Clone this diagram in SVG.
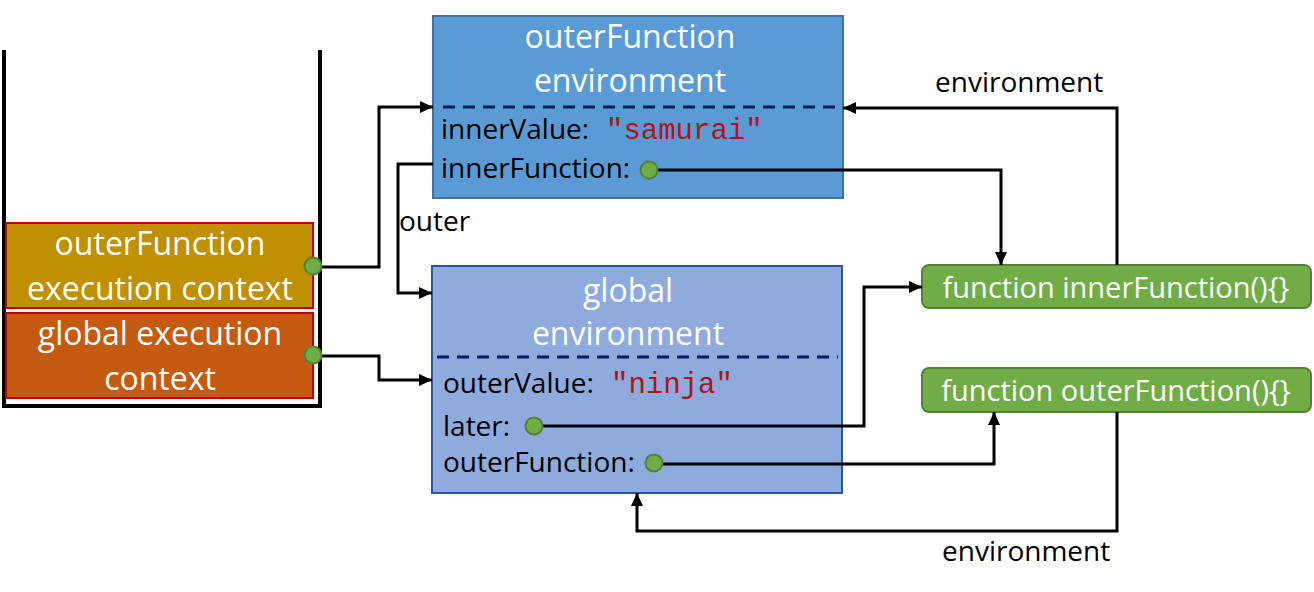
<svg xmlns="http://www.w3.org/2000/svg" width="1314" height="592" viewBox="0 0 1314 592">
<defs>
<marker id="arr" markerUnits="userSpaceOnUse" markerWidth="14" markerHeight="14" viewBox="0 0 14 14" refX="13" refY="7" orient="auto">
<path d="M0,1 L13,7 L0,13 Z" fill="#000"/>
</marker>
</defs>
<style>
.t{font-family:"Open Sans","Noto Sans","DejaVu Sans",sans-serif;}
.w{fill:#fff;}
.k{fill:#000;}
.m{font-family:"Liberation Mono","DejaVu Sans Mono",monospace;fill:#B01515;font-size:29px;}
.c{fill:none;stroke:#000;stroke-width:3;marker-end:url(#arr);}
.dot{fill:#70AD47;stroke:#548235;stroke-width:2;}
.dash{stroke:#002060;stroke-width:3;stroke-dasharray:12 8;}
</style>
<rect width="1314" height="592" fill="#fff"/>
<g id="stack">
<path d="M4,50 L4,406 L320,406 L320,50" fill="none" stroke="#000" stroke-width="4"/>
</g>
<g id="outer-ctx">
<rect x="6" y="223" width="307" height="85" fill="#BF9000" stroke="#C00000" stroke-width="2"/>
<text class="t w" x="160" y="255" font-size="32" text-anchor="middle">outerFunction</text>
<text class="t w" x="160" y="300" font-size="32" text-anchor="middle">execution context</text>
</g>
<g id="global-ctx">
<rect x="6" y="313" width="307" height="85" fill="#C55A11" stroke="#C00000" stroke-width="2"/>
<text class="t w" x="160" y="345" font-size="32" text-anchor="middle">global execution</text>
<text class="t w" x="160" y="390" font-size="32" text-anchor="middle">context</text>
</g>
<g id="outer-env">
<rect x="433" y="16" width="410" height="182" fill="#5B9BD5" stroke="#41719C" stroke-width="2"/>
<text class="t w" x="630" y="48" font-size="32" text-anchor="middle">outerFunction</text>
<text class="t w" x="630" y="92" font-size="32" text-anchor="middle">environment</text>
<line class="dash" x1="443" y1="107" x2="843" y2="107"/>
<text class="t k" x="441" y="139" font-size="28">innerValue:</text>
<text class="m" x="606" y="139">"samurai"</text>
<text class="t k" x="441" y="178" font-size="28">innerFunction:</text>
</g>
<g id="global-env">
<rect x="432" y="266" width="410" height="227" fill="#8FAADC" stroke="#2F5597" stroke-width="2"/>
<text class="t w" x="628" y="302" font-size="32" text-anchor="middle">global</text>
<text class="t w" x="628" y="345" font-size="32" text-anchor="middle">environment</text>
<line class="dash" x1="437" y1="357" x2="838" y2="357"/>
<text class="t k" x="443" y="393" font-size="28">outerValue:</text>
<text class="m" x="611" y="393">"ninja"</text>
<text class="t k" x="443" y="436" font-size="28">later:</text>
<text class="t k" x="443" y="472" font-size="28">outerFunction:</text>
</g>
<g id="inner-fn">
<rect x="922" y="265" width="389" height="43" rx="7" fill="#70AD47" stroke="#548235" stroke-width="2"/>
<text class="t w" x="1116" y="298" font-size="29" text-anchor="middle">function innerFunction(){}</text>
</g>
<g id="outer-fn">
<rect x="922" y="368" width="389" height="44" rx="7" fill="#70AD47" stroke="#548235" stroke-width="2"/>
<text class="t w" x="1116" y="401" font-size="29" text-anchor="middle">function outerFunction(){}</text>
</g>
<g id="connectors">
<path class="c" d="M313,267 L379,267 L379,107 L433,107"/>
<path class="c" d="M313,356 L379,356 L379,380 L432,380"/>
<path class="c" d="M433,164 L398,164 L398,293 L432,293"/>
<path class="c" d="M649,170 L1001,170 L1001,265"/>
<path class="c" d="M534,426 L864,426 L864,287 L922,287"/>
<path class="c" d="M654,464 L994,464 L994,412"/>
<path class="c" d="M1117,265 L1117,108 L843,108"/>
<path class="c" d="M1117,412 L1117,531 L637,531 L637,493"/>
<circle class="dot" cx="313" cy="266" r="8.5"/>
<circle class="dot" cx="313" cy="355" r="8.5"/>
<circle class="dot" cx="649" cy="170" r="8.5"/>
<circle class="dot" cx="534" cy="426" r="8.5"/>
<circle class="dot" cx="654" cy="463" r="8.5"/>
<text class="t k" x="399" y="231" font-size="28">outer</text>
<text class="t k" x="935" y="92" font-size="28">environment</text>
<text class="t k" x="942" y="561" font-size="28">environment</text>
</g>
</svg>
